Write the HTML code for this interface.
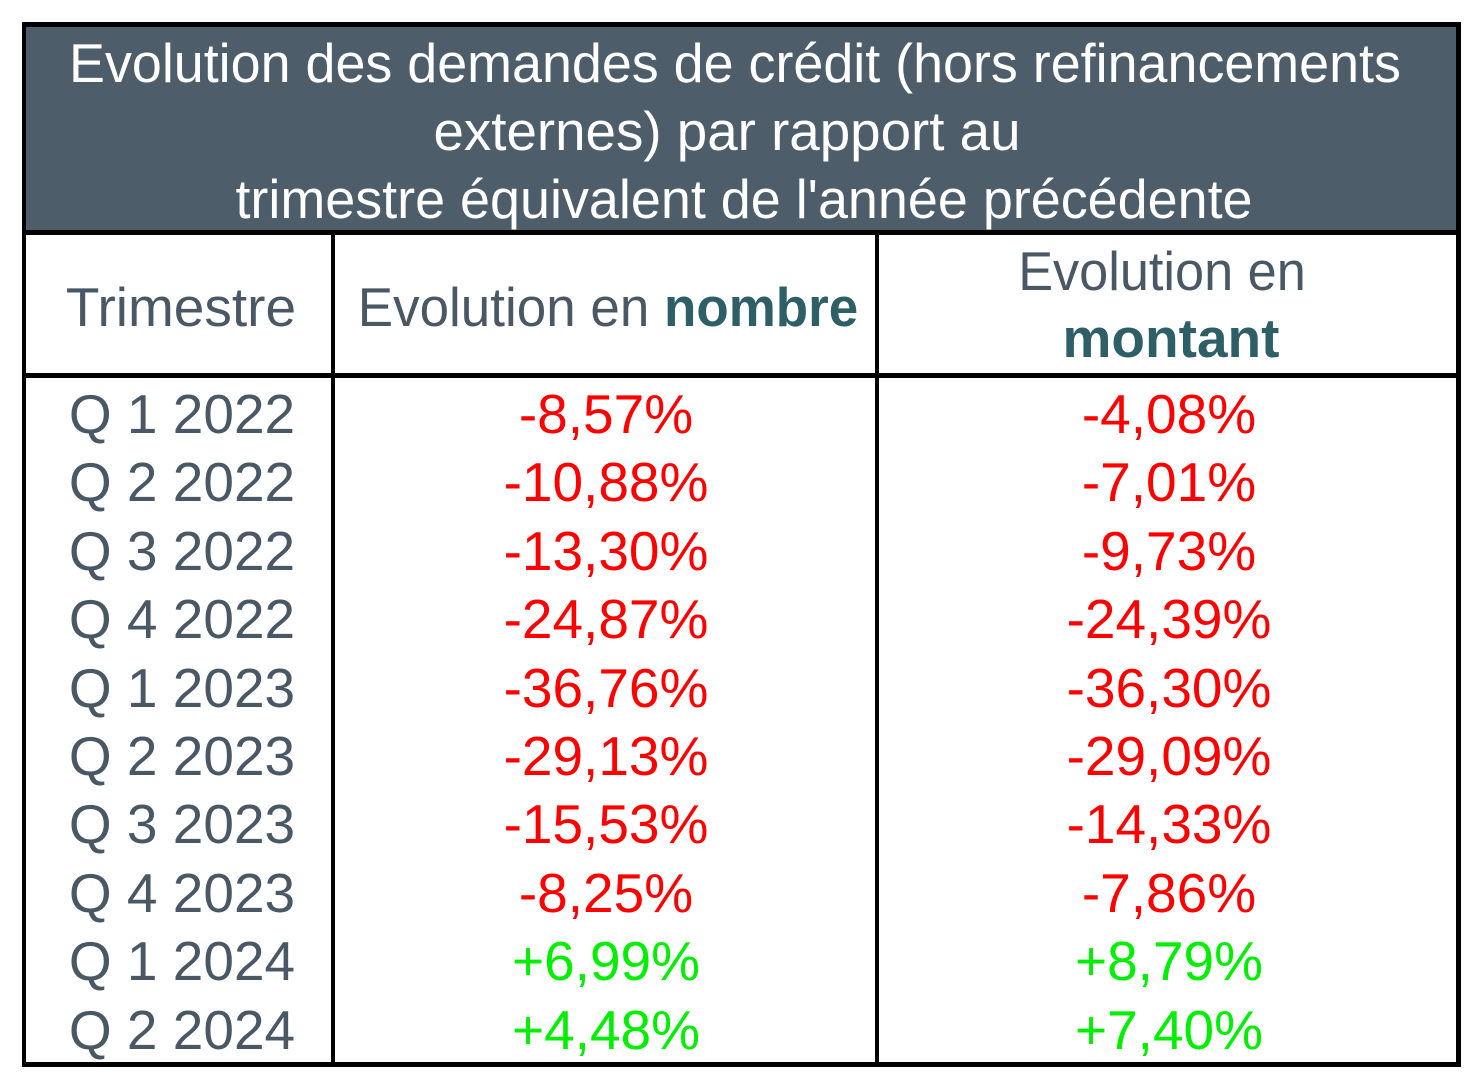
<!DOCTYPE html>
<html>
<head>
<meta charset="utf-8">
<style>
html,body{margin:0;padding:0;background:#fff;}
body{width:1475px;height:1081px;position:relative;overflow:hidden;font-family:"Liberation Sans",Arial,sans-serif;}
.abs{position:absolute;}
.t{position:absolute;white-space:nowrap;text-align:center;font-size:55px;line-height:68px;height:68px;}
.g{color:#4a5865;}
.w{color:#ffffff;}
.r{color:#ff0000;}
.gr{color:#00ee00;}
.b{font-weight:bold;color:#2e5f67;}
</style>
</head>
<body>
<!-- title fill -->
<div class="abs" style="left:26px;top:27px;width:1430px;height:203px;background:#4d5d69;"></div>
<!-- outer border -->
<div class="abs" style="left:22px;top:22px;width:1439px;height:5px;background:#000;"></div>
<div class="abs" style="left:22px;top:1062px;width:1439px;height:5px;background:#000;"></div>
<div class="abs" style="left:22px;top:22px;width:4px;height:1045px;background:#000;"></div>
<div class="abs" style="left:1456px;top:22px;width:5px;height:1045px;background:#000;"></div>
<!-- horizontal lines -->
<div class="abs" style="left:22px;top:230px;width:1439px;height:5px;background:#000;"></div>
<div class="abs" style="left:22px;top:373px;width:1439px;height:5px;background:#000;"></div>
<!-- column dividers -->
<div class="abs" style="left:331px;top:232px;width:4px;height:832px;background:#000;"></div>
<div class="abs" style="left:875px;top:232px;width:4px;height:832px;background:#000;"></div>

<!-- title -->
<div class="t w" style="left:35px;width:1400px;top:29px;transform:scaleX(0.979);transform-origin:700px 0;">Evolution des demandes de crédit (hors refinancements</div>
<div class="t w" style="left:27px;width:1400px;top:97px;transform:scaleX(0.995);transform-origin:700px 0;">externes) par rapport au</div>
<div class="t w" style="left:44px;width:1400px;top:165px;transform:scaleX(0.98);transform-origin:700px 0;">trimestre équivalent de l'année précédente</div>

<!-- header row -->
<div class="t g" style="left:-19px;width:400px;top:273px;">Trimestre</div>
<div class="t g" style="left:308px;width:600px;top:273px;transform:scaleX(0.963);transform-origin:300px 0;">Evolution en <span class="b">nombre</span></div>
<div class="t g" style="left:862px;width:600px;top:237px;transform:scaleX(0.95);transform-origin:300px 0;">Evolution en</div>
<div class="t b" style="left:871px;width:600px;top:304px;">montant</div>

<!-- data rows -->
<div class="t g" style="left:-18px;width:400px;top:380px;">Q 1 2022</div>
<div class="t r" style="left:306px;width:600px;top:380px;">-8,57%</div>
<div class="t r" style="left:869px;width:600px;top:380px;">-4,08%</div>

<div class="t g" style="left:-18px;width:400px;top:448px;">Q 2 2022</div>
<div class="t r" style="left:306px;width:600px;top:448px;">-10,88%</div>
<div class="t r" style="left:869px;width:600px;top:448px;">-7,01%</div>

<div class="t g" style="left:-18px;width:400px;top:517px;">Q 3 2022</div>
<div class="t r" style="left:306px;width:600px;top:517px;">-13,30%</div>
<div class="t r" style="left:869px;width:600px;top:517px;">-9,73%</div>

<div class="t g" style="left:-18px;width:400px;top:585px;">Q 4 2022</div>
<div class="t r" style="left:306px;width:600px;top:585px;">-24,87%</div>
<div class="t r" style="left:869px;width:600px;top:585px;">-24,39%</div>

<div class="t g" style="left:-18px;width:400px;top:654px;">Q 1 2023</div>
<div class="t r" style="left:306px;width:600px;top:654px;">-36,76%</div>
<div class="t r" style="left:869px;width:600px;top:654px;">-36,30%</div>

<div class="t g" style="left:-18px;width:400px;top:722px;">Q 2 2023</div>
<div class="t r" style="left:306px;width:600px;top:722px;">-29,13%</div>
<div class="t r" style="left:869px;width:600px;top:722px;">-29,09%</div>

<div class="t g" style="left:-18px;width:400px;top:790px;">Q 3 2023</div>
<div class="t r" style="left:306px;width:600px;top:790px;">-15,53%</div>
<div class="t r" style="left:869px;width:600px;top:790px;">-14,33%</div>

<div class="t g" style="left:-18px;width:400px;top:859px;">Q 4 2023</div>
<div class="t r" style="left:306px;width:600px;top:859px;">-8,25%</div>
<div class="t r" style="left:869px;width:600px;top:859px;">-7,86%</div>

<div class="t g" style="left:-18px;width:400px;top:927px;">Q 1 2024</div>
<div class="t gr" style="left:306px;width:600px;top:927px;">+6,99%</div>
<div class="t gr" style="left:869px;width:600px;top:927px;">+8,79%</div>

<div class="t g" style="left:-18px;width:400px;top:996px;">Q 2 2024</div>
<div class="t gr" style="left:306px;width:600px;top:996px;">+4,48%</div>
<div class="t gr" style="left:869px;width:600px;top:996px;">+7,40%</div>
</body>
</html>
